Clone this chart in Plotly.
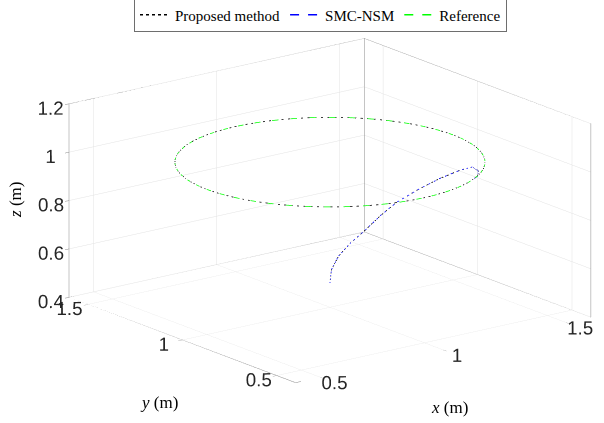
import plotly.graph_objects as go

# ---- data (m) ----
# reference circle, angles 0..360 deg in 5 deg steps
REF_X = [1.5000, 1.4981, 1.4924, 1.4830, 1.4698, 1.4532, 1.4330, 1.4096, 1.3830, 1.3536,
         1.3214, 1.2868, 1.2500, 1.2113, 1.1710, 1.1294, 1.0868, 1.0436, 1.0000, 0.9564,
         0.9132, 0.8706, 0.8290, 0.7887, 0.7500, 0.7132, 0.6786, 0.6464, 0.6170, 0.5904,
         0.5670, 0.5468, 0.5302, 0.5170, 0.5076, 0.5019, 0.5000, 0.5019, 0.5076, 0.5170,
         0.5302, 0.5468, 0.5670, 0.5904, 0.6170, 0.6464, 0.6786, 0.7132, 0.7500, 0.7887,
         0.8290, 0.8706, 0.9132, 0.9564, 1.0000, 1.0436, 1.0868, 1.1294, 1.1710, 1.2113,
         1.2500, 1.2868, 1.3214, 1.3536, 1.3830, 1.4096, 1.4330, 1.4532, 1.4698, 1.4830,
         1.4924, 1.4981, 1.5000]
REF_Y = [1.0000, 1.0436, 1.0868, 1.1294, 1.1710, 1.2113, 1.2500, 1.2868, 1.3214, 1.3536,
         1.3830, 1.4096, 1.4330, 1.4532, 1.4698, 1.4830, 1.4924, 1.4981, 1.5000, 1.4981,
         1.4924, 1.4830, 1.4698, 1.4532, 1.4330, 1.4096, 1.3830, 1.3536, 1.3214, 1.2868,
         1.2500, 1.2113, 1.1710, 1.1294, 1.0868, 1.0436, 1.0000, 0.9564, 0.9132, 0.8706,
         0.8290, 0.7887, 0.7500, 0.7132, 0.6786, 0.6464, 0.6170, 0.5904, 0.5670, 0.5468,
         0.5302, 0.5170, 0.5076, 0.5019, 0.5000, 0.5019, 0.5076, 0.5170, 0.5302, 0.5468,
         0.5670, 0.5904, 0.6170, 0.6464, 0.6786, 0.7132, 0.7500, 0.7887, 0.8290, 0.8706,
         0.9132, 0.9564, 1.0000]
REF_Z = [1.0] * len(REF_X)

# transient part of the tracked trajectories (before joining the circle)
APP_X = [1.000, 0.997, 1.007, 1.029, 1.075, 1.128, 1.192, 1.271, 1.337, 1.394, 1.405, 1.362, 1.297]
APP_Y = [1.000, 0.988, 0.964, 0.929, 0.909, 0.899, 0.898, 0.885, 0.855, 0.823, 0.774, 0.686, 0.605]
APP_Z = [0.500, 0.560, 0.620, 0.680, 0.730, 0.780, 0.820, 0.860, 0.900, 0.930, 0.955, 0.975, 0.990]

# after convergence the proposed trajectory follows the reference circle (clockwise from 300 deg)
JOIN = 60
ORDER = list(range(JOIN, -1, -1)) + list(range(len(REF_X) - 2, JOIN - 1, -1))

PROP_X = APP_X + [REF_X[i] for i in ORDER]
PROP_Y = APP_Y + [REF_Y[i] for i in ORDER]
PROP_Z = APP_Z + [REF_Z[i] for i in ORDER]
# SMC-NSM: visible part (its circle part lies under the other two curves)
SMC_X = APP_X + [REF_X[JOIN]]
SMC_Y = APP_Y + [REF_Y[JOIN]]
SMC_Z = APP_Z + [REF_Z[JOIN]]

XR = [0.4, 1.6]
YR = [0.4, 1.6]
ZR = [0.4, 1.2]
XT = [0.5, 1.0, 1.5]
YT = [0.5, 1.0, 1.5]
ZT = [0.4, 0.6, 0.8, 1.0, 1.2]
XTL = ['0.5', '1', '1.5']
YTL = ['0.5', '1', '1.5']
ZTL = ['0.4', '0.6', '0.8', '1', '1.2']

fig = go.Figure()
fig.add_trace(go.Scatter3d(x=PROP_X, y=PROP_Y, z=PROP_Z, mode='lines', name='Proposed method',
                           line=dict(color='#000000', width=1.5, dash='dot')))
fig.add_trace(go.Scatter3d(x=SMC_X, y=SMC_Y, z=SMC_Z, mode='lines', name='SMC-NSM',
                           line=dict(color='#0000ff', width=1.5, dash='dash')))
fig.add_trace(go.Scatter3d(x=REF_X, y=REF_Y, z=REF_Z, mode='lines', name='Reference',
                           line=dict(color='#00ff00', width=1.5, dash='dash')))

# back edges of the axes box (from the axis limits)
x0, x1 = XR
y0, y1 = YR
z0, z1 = ZR
bx = [x0, x1, x1, x0, x0, None, x0, x0, x1, x1, x1, None, x1, x1]
by = [y0, y0, y1, y1, y0, None, y1, y1, y1, y0, y0, None, y1, y1]
bz = [z0, z0, z0, z0, z0, None, z0, z1, z1, z1, z0, None, z0, z1]
fig.add_trace(go.Scatter3d(x=bx, y=by, z=bz, mode='lines', showlegend=False, hoverinfo='skip',
                           line=dict(color='#8a8a8a', width=1)))

tickfont = dict(family='Liberation Sans', size=15, color='#262626')


def ax(rng, tv, tt):
    return dict(range=rng, autorange=False, tickvals=tv, ticktext=tt, showgrid=True,
                gridcolor='#e3e3e3', gridwidth=1, showline=False, showbackground=False,
                ticks='outside', ticklen=5, tickcolor='#8a8a8a', tickfont=tickfont,
                tickangle=0,
                title=dict(text=''), zeroline=False, showspikes=False)


S = 1.76
k = 2.0
DIR = (-0.5828, -0.7595, 0.2890)
CEN = (-0.1057, 0.0793, -0.0045)
labfont = dict(family='Liberation Serif', size=17, color='#000000')
fig.update_layout(
    width=604, height=423,
    margin=dict(l=0, r=0, t=0, b=0, autoexpand=False),
    paper_bgcolor='white',
    scene=dict(
        domain=dict(x=[0.0, 1.0], y=[0.0, 1.0]),
        xaxis=ax(XR, XT, XTL),
        yaxis=ax(YR, YT, YTL),
        zaxis=ax(ZR, ZT, ZTL),
        aspectmode='manual',
        aspectratio=dict(x=S, y=S, z=0.543 * S),
        camera=dict(eye=dict(x=CEN[0] + DIR[0] * k, y=CEN[1] + DIR[1] * k, z=CEN[2] + DIR[2] * k),
                    center=dict(x=CEN[0], y=CEN[1], z=CEN[2]), up=dict(x=0, y=0, z=1),
                    projection=dict(type='orthographic')),
        bgcolor='white',
    ),
    legend=dict(orientation='h', x=320.5 / 604, xanchor='center', y=1.006, yanchor='top',
                bordercolor='#6e6e6e', borderwidth=1, bgcolor='white',
                font=dict(family='Liberation Serif', size=15, color='#000000'),
                itemwidth=30, tracegroupgap=0),
    annotations=[
        dict(text='<i>z</i> (m)', x=15 / 604, y=1 - 200 / 423, xref='paper', yref='paper',
             xanchor='center', yanchor='middle', showarrow=False, textangle=-90, font=labfont),
        dict(text='<i>y</i> (m)', x=159 / 604, y=1 - 402 / 423, xref='paper', yref='paper',
             xanchor='center', yanchor='middle', showarrow=False, font=labfont),
        dict(text='<i>x</i> (m)', x=449 / 604, y=1 - 407 / 423, xref='paper', yref='paper',
             xanchor='center', yanchor='middle', showarrow=False, font=labfont),
    ],
)

fig.write_html('out.html', config={'displayModeBar': False},
               post_script="document.body.style.margin='0px';document.body.style.padding='0px';")
